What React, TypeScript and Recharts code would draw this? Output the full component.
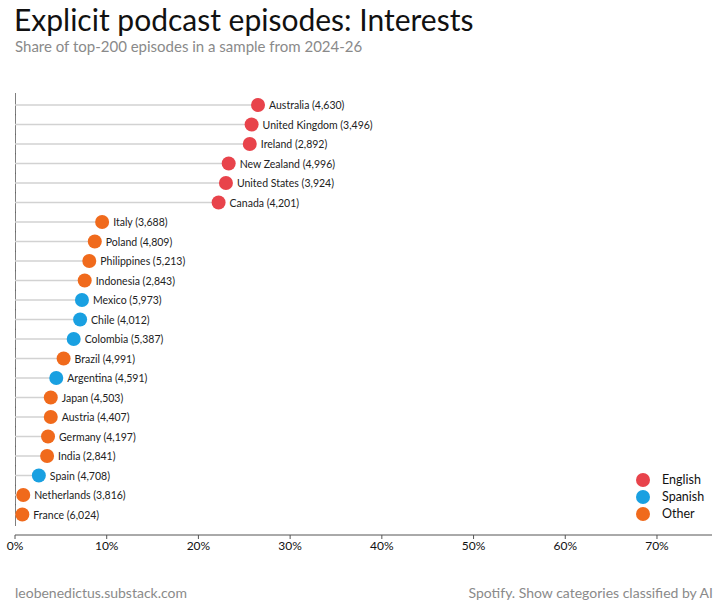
import { BarChart, Bar, XAxis, YAxis, Legend } from "recharts";

const countries = [
  "Australia", "United Kingdom", "Ireland", "New Zealand", "United States", "Canada",
  "Italy", "Poland", "Philippines", "Indonesia", "Mexico", "Chile", "Colombia", "Brazil",
  "Argentina", "Japan", "Austria", "Germany", "India", "Spain", "Netherlands", "France",
];
const episodes = [
  4630, 3496, 2892, 4996, 3924, 4201, 3688, 4809, 5213, 2843, 5973, 4012, 5387, 4991,
  4591, 4503, 4407, 4197, 2841, 4708, 3816, 6024,
];
const shares = [
  26.5, 25.8, 25.6, 23.3, 23.0, 22.2, 9.5, 8.7, 8.1, 7.6, 7.3, 7.1, 6.4, 5.3,
  4.5, 3.9, 3.9, 3.6, 3.5, 2.6, 0.9, 0.8,
];
const groups = [
  "English", "English", "English", "English", "English", "English",
  "Other", "Other", "Other", "Other", "Spanish", "Spanish", "Spanish", "Other",
  "Spanish", "Other", "Other", "Other", "Other", "Spanish", "Other", "Other",
];
const xTicks = [0, 10, 20, 30, 40, 50, 60, 70];
const legendItems = ["English", "Spanish", "Other"];

const colors: Record<string, string> = {
  English: "#e8434b",
  Spanish: "#19a0e1",
  Other: "#f06a1c",
};

const data = countries.map((name, i) => ({
  name,
  share: shares[i],
  group: groups[i],
  label: `${name} (${episodes[i].toLocaleString("en-US")})`,
}));

const FONT = "Lato, 'Open Sans', sans-serif";
const HALF_BAND = 10.3;

const Lollipop = (props: any) => {
  const { x, y, width, height, payload, index } = props;
  const cy = y + height / 2;
  const cx = x + width;
  const top = index === 0 ? cy - 12 : cy - HALF_BAND;
  const bottom = index === data.length - 1 ? cy + 11.5 : cy + HALF_BAND;
  return (
    <g>
      <line x1={x} x2={x} y1={top} y2={bottom} stroke="#555" strokeWidth={1.5} />
      <line x1={x} x2={cx} y1={cy} y2={cy} stroke="#d2d2d2" strokeWidth={1.5} />
      <circle cx={cx} cy={cy} r={7} fill={colors[payload.group]} />
      <text x={cx + 11} y={cy} dominantBaseline="central" fontSize={10.5} fill="#222" fontFamily={FONT}>
        {payload.label}
      </text>
    </g>
  );
};

const renderLegend = () => (
  <div style={{ fontFamily: FONT, fontSize: 12.5, color: "#111" }}>
    {legendItems.map((g) => (
      <div key={g} style={{ display: "flex", alignItems: "center", height: 17 }}>
        <span
          style={{
            width: 14,
            height: 14,
            borderRadius: 7,
            background: colors[g],
            display: "inline-block",
            marginRight: 12,
          }}
        />
        {g}
      </div>
    ))}
  </div>
);

export default function App() {
  return (
    <div style={{ position: "absolute", left: 0, top: 0, width: 720, height: 608, background: "#fff", fontFamily: FONT }}>
      <div style={{ position: "absolute", left: 14, top: 4, fontSize: 30, lineHeight: "30px", color: "#111", whiteSpace: "nowrap" }}>
        Explicit podcast episodes: Interests
      </div>
      <div style={{ position: "absolute", left: 15, top: 38, fontSize: 15, lineHeight: "16px", color: "#8a8a8a", whiteSpace: "nowrap" }}>
        Share of top-200 episodes in a sample from 2024-26
      </div>
      <BarChart
        width={720}
        height={608}
        data={data}
        layout="vertical"
        margin={{ top: 93, right: 8, bottom: 43, left: 15 }}
      >
        <XAxis
          type="number"
          dataKey="share"
          domain={[0, 76]}
          ticks={xTicks}
          tickFormatter={(v) => `${v}%`}
          stroke="#555"
          tick={{ fill: "#111", fontSize: 12, fontFamily: FONT }}
          tickSize={4}
          height={30}
          allowDataOverflow
        />
        <YAxis type="category" dataKey="name" hide padding={{ top: 2, bottom: 11 }} />
        <Legend
          layout="vertical"
          align="center"
          verticalAlign="middle"
          content={renderLegend}
          wrapperStyle={{ left: 636, top: 471, width: 80 }}
        />
        <Bar dataKey="share" barSize={2} shape={<Lollipop />} isAnimationActive={false} />
      </BarChart>
      <div style={{ position: "absolute", left: 15, top: 584, fontSize: 14, color: "#8a8a8a" }}>
        leobenedictus.substack.com
      </div>
      <div style={{ position: "absolute", right: 7, top: 584, fontSize: 14, color: "#8a8a8a", whiteSpace: "nowrap" }}>
        Spotify. Show categories classified by AI
      </div>
    </div>
  );
}
